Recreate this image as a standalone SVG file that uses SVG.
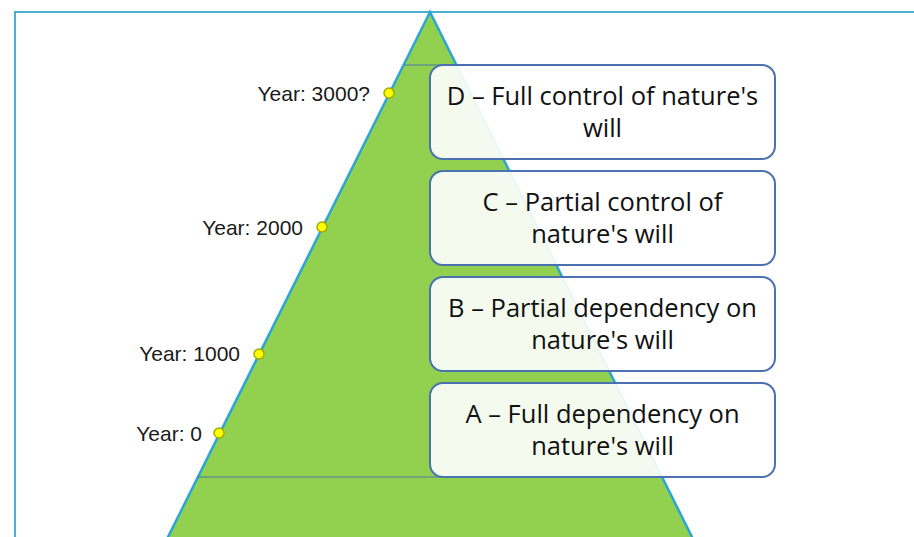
<svg xmlns="http://www.w3.org/2000/svg" width="914" height="537" viewBox="0 0 914 537">
<style>
.yr{font-family:"Liberation Sans",Arial,sans-serif;font-size:21px;fill:#1a1a1a;text-anchor:end}
.dot{fill:#ffff00;stroke:#a8a800;stroke-width:1.5}
.box{fill:#ffffff;fill-opacity:0.9;stroke:#4a72b0;stroke-width:2}
.bt{font-family:"Open Sans","Noto Sans",sans-serif;font-size:25.5px;fill:#111111;text-anchor:middle}
.div{stroke:#4a78a8;stroke-width:1}
</style>
<rect x="0" y="0" width="914" height="537" fill="#ffffff"/>
<rect id="frame" x="15" y="12" width="930" height="560" fill="none" stroke="#4bb0d0" stroke-width="2"/>
<g id="pyramid">
<polygon points="430,12 167,539 693,539" fill="#92d050" stroke="#2aa6d6" stroke-width="2.5"/>
<line class="div" x1="404" y1="65" x2="456" y2="65"/>
<line class="div" x1="197" y1="477" x2="663" y2="477"/>
</g>
<g id="connectors"></g>
<g id="y3000"><circle class="dot" cx="389" cy="93" r="5"/><text class="yr" x="370" y="101">Year: 3000?</text></g>
<g id="y2000"><circle class="dot" cx="322" cy="227" r="5"/><text class="yr" x="303" y="235">Year: 2000</text></g>
<g id="y1000"><circle class="dot" cx="259" cy="354" r="5"/><text class="yr" x="240" y="361">Year: 1000</text></g>
<g id="y0"><circle class="dot" cx="219" cy="433" r="5"/><text class="yr" x="202" y="441">Year: 0</text></g>
<g id="boxD"><rect class="box" x="430" y="65" width="345" height="94" rx="13"/><text class="bt" x="602.5" y="105">D – Full control of nature's</text><text class="bt" x="602.5" y="137">will</text></g>
<g id="boxC"><rect class="box" x="430" y="171" width="345" height="94" rx="13"/><text class="bt" x="602.5" y="211">C – Partial control of</text><text class="bt" x="602.5" y="243">nature's will</text></g>
<g id="boxB"><rect class="box" x="430" y="277" width="345" height="94" rx="13"/><text class="bt" x="602.5" y="317">B – Partial dependency on</text><text class="bt" x="602.5" y="349">nature's will</text></g>
<g id="boxA"><rect class="box" x="430" y="383" width="345" height="94" rx="13"/><text class="bt" x="602.5" y="423">A – Full dependency on</text><text class="bt" x="602.5" y="455">nature's will</text></g>
</svg>
